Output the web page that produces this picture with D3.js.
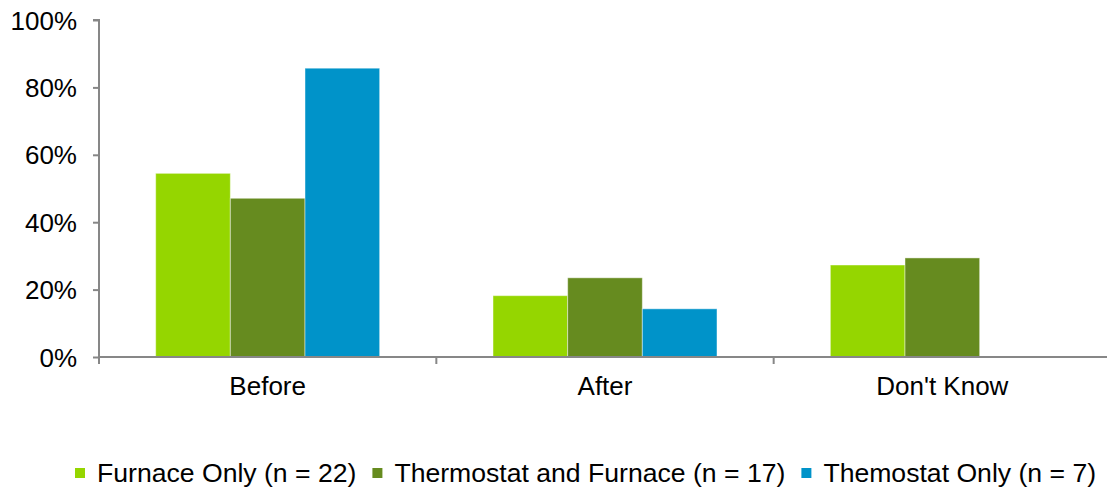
<!DOCTYPE html>
<html>
<head>
<meta charset="utf-8">
<script src="https://cdn.jsdelivr.net/npm/d3@7"></script>
<style>
  body { margin: 0; background: #fff; }
  svg text { font-family: "Liberation Sans", Arial, sans-serif; fill: #000; }
</style>
</head>
<body>
<div id="chart"></div>
<script>
// Data (percent of respondents)
const categories = ["Before", "After", "Don't Know"];
const seriesNames = ["Furnace Only (n = 22)", "Thermostat and Furnace (n = 17)", "Themostat Only (n = 7)"];
const furnaceOnly = [54.5, 18.2, 27.3];
const thermoFurnace = [47.1, 23.5, 29.4];
const thermoOnly = [85.7, 14.3, 0];
const yTicks = [0, 20, 40, 60, 80, 100];
const colors = ["#95d600", "#668b1f", "#0093c9"];

const W = 1107, H = 493;
const margin = { top: 20, left: 99, bottom: 136 };
const plotRight = 1111;   // last band runs past the window edge
const fontSize = '26px';

const series = [furnaceOnly, thermoFurnace, thermoOnly];
const rows = categories.map((c, i) => ({
    cat: c,
    vals: series.map((s, k) => ({ key: seriesNames[k], v: s[i], k: k }))
}));

const svg = d3.select('#chart')
    .append('svg')
    .attr('width', W)
    .attr('height', H);

// Scales
const x = d3.scaleBand()
    .domain(categories)
    .range([margin.left, plotRight])
    .padding(0);

const xInner = d3.scaleBand()
    .domain(seriesNames)
    .range([x.bandwidth() * 0.168, x.bandwidth() * (1 - 0.168)])
    .padding(0);

const y = d3.scaleLinear()
    .domain([0, 100])
    .range([H - margin.bottom, margin.top]);

// Bars
const groups = svg.selectAll('.grp')
    .data(rows)
    .join('g')
    .attr('class', 'grp')
    .attr('transform', d => 'translate(' + x(d.cat) + ',0)');

groups.selectAll('rect')
    .data(d => d.vals.filter(v => v.v > 0))
    .join('rect')
    .attr('x', d => xInner(d.key))
    .attr('y', d => y(d.v))
    .attr('width', xInner.bandwidth())
    .attr('height', d => y(0) - y(d.v))
    .attr('fill', d => colors[d.k])
    .attr('stroke', 'rgba(255,255,255,0.45)')
    .attr('stroke-width', 1);

// Y axis
const yAxis = svg.append('g')
    .attr('transform', 'translate(' + margin.left + ',0)')
    .call(d3.axisLeft(y).tickValues(yTicks).tickFormat(d => d + '%').tickSize(6).tickPadding(16));
yAxis.select('.domain').attr('stroke', '#878787').attr('stroke-width', 2).attr('d', 'M-6,' + y(100) + 'H0V' + y(0));
yAxis.selectAll('.tick line').attr('stroke', '#878787').attr('stroke-width', 2);
yAxis.selectAll('.tick text').style('font-size', fontSize).attr('dy', '0.35em');

// X axis
const xAxis = svg.append('g')
    .attr('transform', 'translate(0,' + y(0) + ')')
    .call(d3.axisBottom(x).tickSize(0).tickPadding(20));
xAxis.select('.domain').attr('stroke', '#878787').attr('stroke-width', 2).attr('d', 'M' + margin.left + ',0H' + W);
xAxis.selectAll('.tick text').style('font-size', fontSize);
xAxis.selectAll('.sep')
    .data(categories)
    .join('line')
    .attr('class', 'sep')
    .attr('x1', d => x(d)).attr('x2', d => x(d))
    .attr('y1', 0).attr('y2', 7)
    .attr('stroke', '#878787').attr('stroke-width', 2);

// Legend
const legend = svg.append('g').attr('transform', 'translate(75,' + 473 + ')');
let lx = 0;
seriesNames.forEach((name, k) => {
    legend.append('rect')
        .attr('x', lx).attr('y', -5)
        .attr('width', 10).attr('height', 10)
        .attr('fill', colors[k]);
    const t = legend.append('text')
        .attr('x', lx + 22).attr('y', 0)
        .attr('dy', '0.35em')
        .style('font-size', '26.6px')
        .text(name);
    lx += 22 + t.node().getComputedTextLength() + 16;
});
</script>
</body>
</html>
